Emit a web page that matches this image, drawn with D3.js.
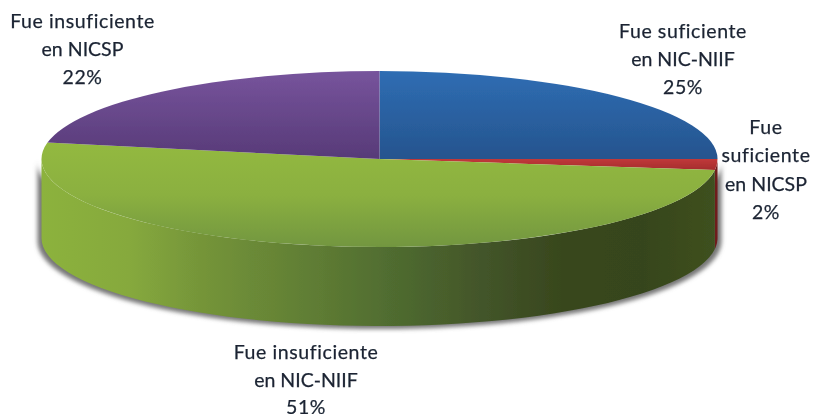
<!DOCTYPE html>
<html>
<head>
<meta charset="utf-8">
<script src="https://cdn.jsdelivr.net/npm/d3@7"></script>
<style>
  html, body { margin: 0; padding: 0; background: #fff; overflow: hidden; }
  text {
    font-family: Lato, "Open Sans", sans-serif;
    font-size: 19.5px;
    letter-spacing: 0.6px;
    font-variant-ligatures: none;
    fill: #1b2433;
    stroke: #1b2433;
    stroke-width: 0.25px;
  }
</style>
</head>
<body>
<div class="content"></div>
<script>
//--> Data
const labels = [
  "Fue suficiente en NIC-NIIF",
  "Fue suficiente en NICSP",
  "Fue insuficiente en NIC-NIIF",
  "Fue insuficiente en NICSP"
];
const values = [25, 2, 51, 22];
const percents = ["25%", "2%", "51%", "22%"];

//--> Constants
const width = 813;
const height = 414;
const cx = 379.5;
const cy = 159;
const rx = 338;
const ry = 88;
const depth = 79;

const labelLines = [
  { x: 683, y: 38, step: 28, lines: ["Fue suficiente", "en NIC-NIIF"] },
  { x: 766, y: 134, step: 28.3, lines: ["Fue", "suficiente", "en NICSP"] },
  { x: 306, y: 359, step: 27.5, lines: ["Fue insuficiente", "en NIC-NIIF"] },
  { x: 82.5, y: 28, step: 28, lines: ["Fue insuficiente", "en NICSP"] }
];

const topColors = [
  [[0, "#2f6db3"], [1, "#25548e"]],
  [[0, "#c0393a"], [1, "#a52c2d"]],
  [[0, "#93b941"], [0.5, "#8bb03f"], [1, "#729640"]],
  [[0, "#77549c"], [1, "#573a78"]]
];

const svg = d3
  .select(".content")
  .append("svg")
  .attr("width", width)
  .attr("height", height);

const defs = svg.append("defs");

//--> Gradients
topColors.forEach((stops, i) => {
  const g = defs
    .append("linearGradient")
    .attr("id", `top${i}`)
    .attr("x1", 0).attr("x2", 0)
    .attr("y1", 0).attr("y2", 1);
  stops.forEach(s => g.append("stop").attr("offset", s[0]).attr("stop-color", s[1]));
});

const sideGrad = defs
  .append("linearGradient")
  .attr("id", "side")
  .attr("gradientUnits", "userSpaceOnUse")
  .attr("x1", cx - rx).attr("x2", cx + rx)
  .attr("y1", 0).attr("y2", 0);
[
  [0, "#8cb23e"],
  [0.13, "#86a93d"],
  [0.234, "#759539"],
  [0.38, "#628035"],
  [0.53, "#4e6a2f"],
  [0.65, "#43552a"],
  [0.77, "#38471d"],
  [0.89, "#36451b"],
  [1, "#3f5120"]
].forEach(s => sideGrad.append("stop").attr("offset", s[0]).attr("stop-color", s[1]));

defs
  .append("filter")
  .attr("id", "blur")
  .attr("x", "-5%").attr("y", "-10%").attr("width", "110%").attr("height", "120%")
  .append("feGaussianBlur")
  .attr("stdDeviation", 2.2);

defs
  .append("filter")
  .attr("id", "soft")
  .attr("x", "-5%").attr("y", "-5%").attr("width", "110%").attr("height", "110%")
  .append("feGaussianBlur")
  .attr("stdDeviation", 0.4);

//--> Pie layout, angles clockwise from the top
const pie = d3.pie().sort(null).value(d => d);
const arcs = pie(values);

const px = a => cx + rx * Math.sin(a);
const py = a => cy - ry * Math.cos(a);

// outline of the wall for an angle range, rim then bottom edge back
const wallPath = (a0, a1) => {
  const steps = d3.range(0, 61).map(i => a0 + ((a1 - a0) * i) / 60);
  const line = d3.line();
  const upper = steps.map(a => [px(a), py(a)]);
  const lower = steps.slice().reverse().map(a => [px(a), py(a) + depth]);
  return line(upper.concat(lower)) + "Z";
};

const half = Math.PI / 2;

//--> Shadow under the wall
svg
  .append("path")
  .attr("d", wallPath(half, 3 * half))
  .attr("transform", `translate(${cx},${cy + 3}) scale(1.012,1) translate(${-cx},${-cy})`)
  .attr("fill", "#777")
  .attr("filter", "url(#blur)");

const pieGroup = svg.append("g").attr("filter", "url(#soft)");

//--> Wall: only what faces the viewer
const redArc = arcs[1];
pieGroup
  .append("path")
  .attr("d", wallPath(half, redArc.endAngle))
  .attr("fill", "#6e1c1c");

pieGroup
  .append("path")
  .attr("d", wallPath(redArc.endAngle, 3 * half))
  .attr("fill", "url(#side)");

//--> Top face
const arc = d3.arc().innerRadius(0).outerRadius(rx);

pieGroup
  .append("g")
  .attr("transform", `translate(${cx},${cy}) scale(1,${ry / rx})`)
  .selectAll("path")
  .data(arcs)
  .enter()
  .append("path")
  .attr("d", arc)
  .attr("fill", (d, i) => `url(#top${i})`);

//--> Labels
const labelGroups = svg
  .selectAll("text.label")
  .data(labelLines)
  .enter()
  .append("text")
  .attr("class", "label")
  .attr("text-anchor", "middle")
  .attr("filter", "url(#soft)");

labelGroups.each(function (d, i) {
  const node = d3.select(this);
  d.lines.concat(percents[i]).forEach((t, k) => {
    node
      .append("tspan")
      .attr("x", d.x)
      .attr("y", d.y + k * d.step)
      .style("letter-spacing", t.includes("NIC") ? "0px" : null)
      .text(t);
  });
});
</script>
</body>
</html>
